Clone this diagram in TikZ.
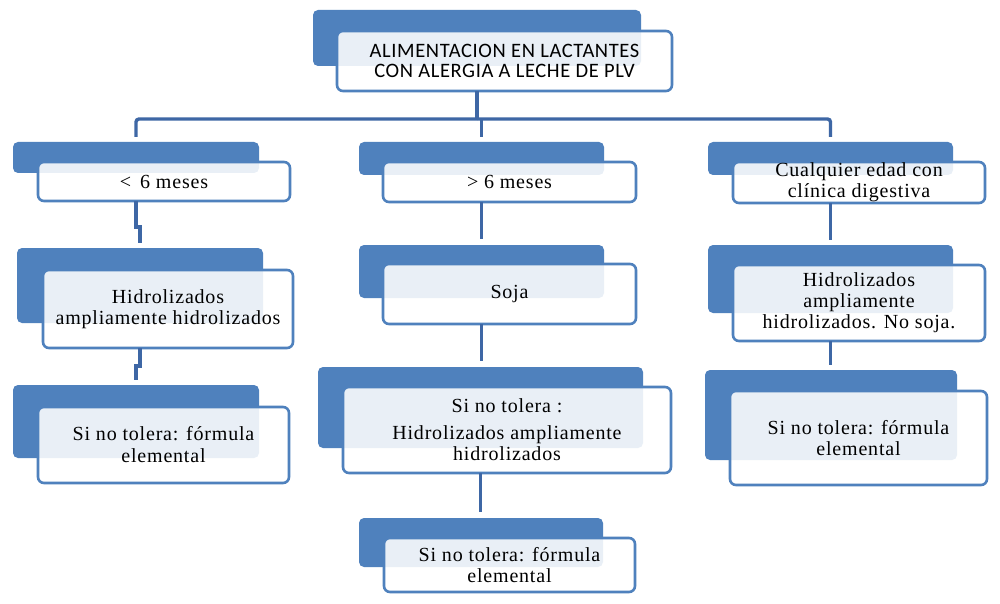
\documentclass[tikz,border=0pt]{standalone}
\usepackage{fontspec}
\setmainfont{Liberation Serif}
\newfontfamily\serifls{Liberation Serif}[LetterSpace=4]
\newfontfamily\sansls{Carlito}[LetterSpace=3]
\definecolor{tabblue}{HTML}{4F81BD}
\definecolor{cardline}{HTML}{4F81BD}
\definecolor{linkblue}{HTML}{3E67A5}
\begin{document}
\begin{tikzpicture}[x=1pt,y=-1pt,
  tab/.style={fill=tabblue, draw=none, rounded corners=5pt, inner sep=0pt, outer sep=0pt, anchor=north west},
  card/.style={draw=cardline, line width=2.6pt, fill=white, fill opacity=0.88, text opacity=1,
    rounded corners=6pt, inner sep=0pt, outer sep=0pt, anchor=north west, align=center,
    font=\serifls\fontsize{20}{21}\selectfont},
  link/.style={draw=linkblue, line width=3.4pt}]
\fill[white] (0,0) rectangle (1000,604);
\useasboundingbox (0,0) rectangle (1000,604);

% top
\node[tab, minimum width=328pt, minimum height=56pt] (t0) at (313,10) {};
\node[card, minimum width=335pt, minimum height=60pt, font=\sansls\fontsize{20.5}{20.5}\selectfont] (c0) at (337,31) {ALIMENTACION EN LACTANTES\\CON ALERGIA A LECHE DE PLV};

% level 1
\node[tab, minimum width=246pt, minimum height=31pt] (t1) at (13,142) {};
\node[card, minimum width=252pt, minimum height=39pt] (c1) at (38,162) {<\hspace{9pt}6 meses};
\node[tab, minimum width=245pt, minimum height=33pt] (t2) at (359,142) {};
\node[card, minimum width=253pt, minimum height=40pt] (c2) at (383,162) {> 6 meses};
\node[tab, minimum width=245pt, minimum height=33pt] (t3) at (708,142) {};
\node[card, minimum width=252pt, minimum height=41pt] (c3) at (733,162) {Cualquier edad con\\clínica digestiva};

% level 2
\node[tab, minimum width=246pt, minimum height=75pt] (t4) at (17,248) {};
\node[card, minimum width=250pt, minimum height=78pt] (c4) at (43,270) {Hidrolizados\\ampliamente hidrolizados};
\node[tab, minimum width=245pt, minimum height=53pt] (t5) at (359,245) {};
\node[card, minimum width=253pt, minimum height=60pt] (c5) at (383,264) {Soja};
\node[tab, minimum width=245pt, minimum height=68pt] (t6) at (708,245) {};
\node[card, minimum width=252pt, minimum height=76pt] (c6) at (733,265) {Hidrolizados\\ampliamente\\hidrolizados. No soja.};

% level 3
\node[tab, minimum width=246pt, minimum height=73pt] (t7) at (13,385) {};
\node[card, minimum width=251pt, minimum height=76pt, font=\serifls\fontsize{20}{22}\selectfont] (c7) at (38,407) {Si no tolera: fórmula\\elemental};
\node[tab, minimum width=325pt, minimum height=81pt] (t8) at (318,367) {};
\node[card, minimum width=328pt, minimum height=86pt] (c8) at (343,387) {Si no tolera :\\[6pt]Hidrolizados ampliamente\\hidrolizados};
\node[tab, minimum width=252pt, minimum height=90pt] (t9) at (705,370) {};
\node[card, minimum width=257pt, minimum height=94pt] (c9) at (730,391) {Si no tolera: fórmula\\elemental};

% level 4
\node[tab, minimum width=244pt, minimum height=49pt] (t10) at (359,518) {};
\node[card, minimum width=251pt, minimum height=54pt] (c10) at (384,538) {Si no tolera: fórmula\\elemental};

% connectors
\coordinate (bus) at (0,119);
\draw[link] (t0.center |- c0.south) -- (t0.center |- bus);
\draw[link, rounded corners=3pt, shorten >=5pt] (t0.center |- bus) -| (t1.north);
\draw[link, rounded corners=3pt, shorten >=5pt] (t0.center |- bus) -| (t3.north);
\draw[link, shorten >=5pt] (t2.north |- bus) -- (t2.north);
\draw[link, shorten >=5pt] (t1.center |- c1.south) -- ++(0,26) -| (t4.north);
\draw[link, shorten >=5pt] (t4.center |- c4.south) -- ++(0,18) -| (t7.north);
\draw[link, shorten >=6pt] (t2.center |- c2.south) -- (t5.north);
\draw[link, shorten >=6pt] (t5.center |- c5.south) -- (t5.center |- t8.north);
\draw[link, shorten >=6pt] (t8.center |- c8.south) -- (t8.center |- t10.north);
\draw[link, shorten >=5pt] (t3.center |- c3.south) -- (t6.north);
\draw[link, shorten >=5pt] (t6.center |- c6.south) -- (t6.center |- t9.north);
\end{tikzpicture}
\end{document}
